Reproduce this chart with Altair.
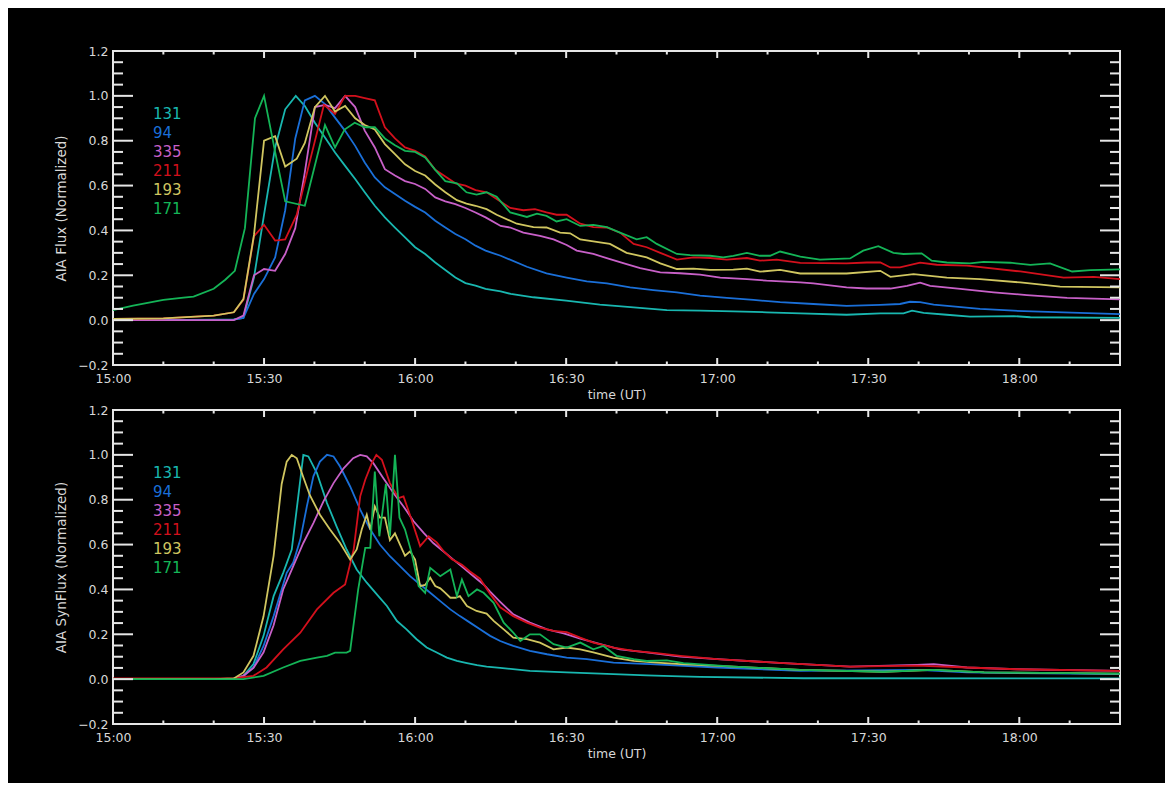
import altair as alt
import pandas as pd

# ---------------- data (minutes after 15:00 UT, normalized flux) ----------------
BANDS = ["131", "94", "335", "211", "193", "171"]
COLORS = ["#19b7b0", "#1a6fd8", "#c860c8", "#d3101c", "#d0c660", "#14b457"]

# top panel: AIA Flux
T_TOP_131 = [0, 10, 20, 24, 25.9, 28, 30, 32.2, 34.2, 36.3, 38.1, 40.1, 42.1, 44.1, 46.1, 48.1, 50, 52, 54, 56, 58, 60, 62, 64, 66, 68, 70, 72, 74, 77, 79, 83.5, 90, 96.7, 103.4, 110, 116.6, 123.2, 129.8, 136.5, 145.7, 152.4, 157, 158.7, 161, 165.6, 170.2, 178.9, 182.2, 200]
V_TOP_131 = [0.0, 0.0, 0.002, 0.003, 0.01, 0.19, 0.47, 0.77, 0.94, 1.0, 0.955, 0.88, 0.814, 0.747, 0.688, 0.629, 0.57, 0.51, 0.458, 0.413, 0.369, 0.325, 0.295, 0.257, 0.224, 0.19, 0.165, 0.154, 0.139, 0.128, 0.117, 0.102, 0.087, 0.069, 0.057, 0.045, 0.042, 0.039, 0.035, 0.03, 0.024, 0.03, 0.03, 0.042, 0.032, 0.024, 0.016, 0.018, 0.013, 0.01]

T_TOP_94 = [0, 20, 24, 25.9, 28, 30, 32.2, 34.2, 36.2, 38.1, 40.1, 42.1, 44.1, 46.1, 48.1, 50, 52, 54, 56, 58, 60, 62, 64, 66, 68, 70, 72, 74, 77, 82.2, 86.1, 90.1, 94.1, 98.1, 102.7, 107.3, 112, 116.6, 121.9, 127.2, 132.5, 139.1, 145.7, 152.4, 156.3, 158.3, 160.3, 163, 172.2, 178.9, 188.8, 200]
V_TOP_94 = [0, 0, 0.002, 0.01, 0.117, 0.183, 0.28, 0.49, 0.81, 0.98, 1.0, 0.963, 0.903, 0.844, 0.777, 0.703, 0.636, 0.592, 0.562, 0.532, 0.505, 0.48, 0.443, 0.413, 0.384, 0.361, 0.332, 0.31, 0.287, 0.238, 0.209, 0.19, 0.173, 0.164, 0.146, 0.134, 0.124, 0.109, 0.099, 0.09, 0.08, 0.072, 0.064, 0.068, 0.072, 0.082, 0.08, 0.069, 0.05, 0.042, 0.035, 0.027]

T_TOP_335 = [0, 20, 24, 25.9, 28, 30, 32.2, 34.2, 36.2, 38.1, 40.1, 42.1, 44.1, 46.1, 48.1, 50, 52, 54, 56, 58, 60, 62, 64, 66, 68, 70, 72, 74, 77, 78.9, 81.5, 84.8, 87.5, 90.1, 92.1, 95.4, 98.7, 102, 104.7, 108.7, 112.6, 116.6, 120.6, 125.9, 129.8, 136.5, 139.1, 145.7, 149.7, 154.4, 157.7, 160.3, 162.3, 168.3, 174.9, 181.5, 189.5, 200]
V_TOP_335 = [0, 0, 0.0, 0.02, 0.20, 0.228, 0.22, 0.295, 0.41, 0.66, 0.95, 0.96, 0.945, 1.0, 0.95, 0.845, 0.77, 0.673, 0.645, 0.62, 0.607, 0.585, 0.547, 0.53, 0.517, 0.50, 0.48, 0.458, 0.42, 0.413, 0.39, 0.376, 0.36, 0.335, 0.31, 0.295, 0.272, 0.25, 0.232, 0.213, 0.209, 0.203, 0.19, 0.183, 0.176, 0.168, 0.164, 0.146, 0.141, 0.141, 0.153, 0.167, 0.153, 0.139, 0.124, 0.112, 0.099, 0.093]

T_TOP_211 = [0, 10, 20, 24, 25.9, 28, 30, 32.2, 34.2, 36.5, 39, 41.9, 44.1, 46.1, 48.1, 50, 52, 54, 56, 58, 60, 62, 64, 66, 68, 70, 72, 74.2, 76.2, 78.9, 81.5, 83.8, 86.1, 88.1, 90.1, 92.8, 95.4, 98.1, 100.7, 103.4, 106, 108.7, 112, 115.3, 118.6, 121.9, 125.9, 128.5, 131.8, 136.5, 145.7, 149.7, 152.4, 154.4, 156.3, 160.3, 163.6, 169.6, 180.2, 188.8, 194.8, 200]
V_TOP_211 = [0.005, 0.008, 0.02, 0.035, 0.09, 0.375, 0.425, 0.355, 0.36, 0.47, 0.70, 0.96, 0.92, 1.0, 1.0, 0.99, 0.98, 0.86, 0.81, 0.77, 0.755, 0.73, 0.67, 0.64, 0.61, 0.60, 0.58, 0.57, 0.54, 0.50, 0.49, 0.495, 0.48, 0.47, 0.47, 0.43, 0.415, 0.413, 0.39, 0.34, 0.325, 0.30, 0.27, 0.28, 0.277, 0.27, 0.277, 0.265, 0.27, 0.255, 0.253, 0.257, 0.257, 0.235, 0.235, 0.256, 0.247, 0.243, 0.217, 0.19, 0.193, 0.183]

T_TOP_193 = [0, 10, 20, 24, 25.9, 28, 30, 32.2, 34.2, 36.5, 38.1, 40.1, 42.1, 44.1, 46.1, 48.1, 50, 52, 54, 56, 58, 60, 62, 64, 66, 68.3, 70.2, 72, 74.2, 76.2, 80.2, 83.5, 86.1, 88.8, 90.8, 92.8, 96.7, 98.7, 102, 106, 108.7, 112, 115.3, 118.6, 123.2, 125.9, 128.5, 132.5, 136.5, 145.7, 152.4, 154.4, 159, 165.6, 172.2, 180.2, 188.1, 200]
V_TOP_193 = [0.005, 0.008, 0.02, 0.035, 0.094, 0.38, 0.80, 0.82, 0.685, 0.72, 0.79, 0.95, 1.0, 0.93, 0.955, 0.90, 0.87, 0.85, 0.785, 0.74, 0.695, 0.665, 0.645, 0.605, 0.57, 0.535, 0.52, 0.51, 0.495, 0.47, 0.43, 0.415, 0.413, 0.39, 0.387, 0.36, 0.347, 0.34, 0.30, 0.28, 0.253, 0.228, 0.23, 0.224, 0.225, 0.23, 0.216, 0.224, 0.208, 0.208, 0.22, 0.193, 0.205, 0.19, 0.183, 0.168, 0.149, 0.146]

T_TOP_171 = [0, 4, 10, 14, 16, 20, 22.3, 24.2, 26.2, 28.2, 30, 32.2, 34.2, 38.1, 42.1, 44.1, 46, 48, 50, 52, 54, 56, 58, 60, 62, 64, 66, 68.3, 70.2, 72.2, 74.2, 76.2, 78.9, 82.2, 84.2, 86.1, 88.1, 90.1, 92.8, 95.4, 98.1, 100.7, 104, 106, 108, 112, 114.6, 118.6, 121.2, 123.2, 125.9, 128.5, 130.5, 132.5, 136.5, 140.4, 146.4, 149, 152, 155, 157, 160.6, 162.6, 165.6, 170.2, 172.9, 178.2, 182.2, 186.1, 190.5, 194.1, 200]
V_TOP_171 = [0.045, 0.065, 0.09, 0.10, 0.105, 0.14, 0.18, 0.22, 0.41, 0.90, 1.0, 0.75, 0.53, 0.51, 0.87, 0.77, 0.85, 0.88, 0.86, 0.86, 0.81, 0.78, 0.755, 0.75, 0.725, 0.67, 0.62, 0.61, 0.57, 0.56, 0.57, 0.55, 0.48, 0.46, 0.475, 0.465, 0.44, 0.45, 0.42, 0.425, 0.415, 0.39, 0.36, 0.37, 0.34, 0.295, 0.29, 0.287, 0.28, 0.287, 0.30, 0.287, 0.287, 0.306, 0.283, 0.27, 0.275, 0.31, 0.33, 0.30, 0.295, 0.298, 0.265, 0.257, 0.253, 0.26, 0.256, 0.246, 0.253, 0.217, 0.223, 0.226]

# bottom panel: AIA SynFlux
T_BOT_131 = [0, 20, 24, 25.9, 27.9, 29.9, 31.9, 33.8, 35.5, 36.8, 37.8, 38.8, 40.5, 42.5, 44.4, 46.4, 48.4, 50.4, 52.4, 54.4, 56.4, 58.3, 60.3, 62.3, 64.3, 66.3, 68.3, 70.3, 72.3, 74.2, 76.9, 82.8, 90.1, 99.4, 106, 112.7, 116.6, 137.2, 200]
V_BOT_131 = [0, 0, 0.002, 0.015, 0.067, 0.193, 0.37, 0.474, 0.578, 0.815, 1.0, 0.993, 0.919, 0.785, 0.681, 0.578, 0.489, 0.43, 0.378, 0.326, 0.259, 0.222, 0.178, 0.141, 0.119, 0.096, 0.081, 0.071, 0.062, 0.056, 0.05, 0.037, 0.03, 0.022, 0.017, 0.012, 0.01, 0.004, 0.003]

T_BOT_94 = [0, 20, 24, 25.9, 27.9, 29.9, 31.9, 34.5, 35.8, 37.2, 38.5, 39.8, 41.1, 42.5, 43.8, 45.1, 47.1, 49.1, 51.1, 53, 55, 57, 59, 61, 63, 65, 67, 68.9, 70.9, 72.9, 74.9, 76.9, 79.5, 82.8, 86.2, 90.1, 94.1, 99.4, 106.7, 120, 136.5, 159.7, 169.6, 200]
V_BOT_94 = [0, 0, 0.002, 0.012, 0.052, 0.148, 0.281, 0.474, 0.52, 0.622, 0.77, 0.904, 0.97, 1.0, 0.993, 0.948, 0.859, 0.756, 0.667, 0.60, 0.548, 0.504, 0.459, 0.422, 0.385, 0.348, 0.311, 0.281, 0.252, 0.222, 0.193, 0.17, 0.148, 0.126, 0.111, 0.096, 0.089, 0.074, 0.067, 0.052, 0.037, 0.041, 0.03, 0.022]

T_BOT_335 = [0, 20, 24, 25.9, 27.9, 29.9, 31.9, 33.8, 35.8, 37.8, 39.8, 41.8, 43.8, 45.8, 47.7, 49.1, 50.4, 51.7, 53.7, 55.7, 57.7, 59.7, 61.7, 63.6, 65.6, 67.6, 69.6, 71.6, 73.6, 74.9, 76.9, 79.5, 82.8, 86.2, 89.5, 92.8, 96.8, 100.7, 106, 112.7, 120, 133.2, 146.4, 159.7, 163, 169.6, 179.5, 200]
V_BOT_335 = [0, 0, 0.002, 0.015, 0.05, 0.12, 0.24, 0.40, 0.504, 0.607, 0.696, 0.793, 0.874, 0.94, 0.985, 1.0, 0.993, 0.963, 0.896, 0.83, 0.77, 0.704, 0.652, 0.607, 0.57, 0.533, 0.496, 0.459, 0.422, 0.39, 0.345, 0.289, 0.252, 0.222, 0.204, 0.181, 0.156, 0.133, 0.119, 0.1, 0.089, 0.071, 0.056, 0.064, 0.067, 0.052, 0.044, 0.037]

T_BOT_211 = [0, 20, 24, 27.9, 30.5, 33.8, 37.2, 40.5, 43.8, 46.1, 47.8, 49.1, 50.1, 51.4, 52.3, 53.4, 55, 56.7, 57.7, 59.3, 61, 62.7, 64.3, 65.6, 67.3, 69.3, 70.9, 72.9, 74.9, 76.9, 79.5, 82.2, 84.8, 87.5, 90.1, 92.8, 95.4, 99.4, 103.4, 108, 112.7, 120, 133.2, 146.4, 159.7, 169.6, 179.5, 200]
V_BOT_211 = [0.003, 0.003, 0.004, 0.015, 0.052, 0.133, 0.207, 0.311, 0.385, 0.422, 0.578, 0.815, 0.889, 0.963, 1.0, 0.978, 0.874, 0.807, 0.815, 0.711, 0.593, 0.637, 0.61, 0.572, 0.535, 0.51, 0.48, 0.448, 0.38, 0.32, 0.281, 0.252, 0.23, 0.215, 0.21, 0.185, 0.163, 0.141, 0.126, 0.116, 0.104, 0.089, 0.071, 0.056, 0.06, 0.052, 0.044, 0.037]

T_BOT_193 = [0, 20, 24, 25.9, 27.9, 29.9, 31.9, 33.5, 34.5, 35.5, 36.5, 37.8, 39.1, 41.1, 43.1, 45.1, 47.1, 48.4, 49.4, 50.4, 51.1, 52, 53, 54, 55, 56, 57, 58, 59, 60, 61, 62, 63, 64, 65, 66, 67, 68, 68.9, 70.3, 72.2, 74.2, 75.6, 77.6, 79.5, 82.2, 84.8, 87.5, 90.1, 92.8, 95.4, 99.4, 103.4, 108, 112.7, 123.3, 136.5, 153, 163, 173, 200]
V_BOT_193 = [0, 0, 0.003, 0.03, 0.104, 0.28, 0.55, 0.87, 0.97, 1.0, 0.985, 0.90, 0.82, 0.733, 0.667, 0.607, 0.533, 0.578, 0.667, 0.733, 0.667, 0.77, 0.72, 0.72, 0.62, 0.65, 0.60, 0.55, 0.57, 0.533, 0.415, 0.42, 0.452, 0.415, 0.405, 0.385, 0.363, 0.363, 0.37, 0.326, 0.304, 0.292, 0.26, 0.222, 0.185, 0.178, 0.163, 0.133, 0.141, 0.133, 0.119, 0.096, 0.081, 0.074, 0.067, 0.056, 0.041, 0.033, 0.041, 0.03, 0.025]

T_BOT_171 = [0, 20, 25.9, 29.9, 33.8, 37.2, 40.5, 42.5, 44.1, 46.4, 47.1, 48.7, 50.1, 51.1, 52, 52.9, 54.2, 55, 56, 56.9, 58, 59.3, 60.7, 62, 63, 65, 67, 68.3, 69.3, 70.6, 72.3, 73.6, 75.6, 77.6, 79.5, 80.9, 82.8, 84.8, 87.5, 90.1, 92.8, 95.4, 97.4, 100, 103.4, 106, 110, 113.3, 123.3, 136.5, 153, 163, 173, 200]
V_BOT_171 = [0, 0, 0.0, 0.015, 0.052, 0.081, 0.096, 0.104, 0.118, 0.118, 0.126, 0.40, 0.585, 0.585, 0.926, 0.637, 0.871, 0.637, 1.0, 0.72, 0.667, 0.563, 0.415, 0.385, 0.496, 0.459, 0.489, 0.37, 0.444, 0.37, 0.40, 0.385, 0.34, 0.252, 0.207, 0.17, 0.20, 0.20, 0.156, 0.141, 0.163, 0.133, 0.148, 0.104, 0.089, 0.081, 0.084, 0.071, 0.056, 0.041, 0.033, 0.041, 0.03, 0.025]

# axis ticks / labels
X_LABEL_MIN = [0, 30, 60, 90, 120, 150, 180]          # 15:00 ... 18:00
X_MINOR_MIN = [m for m in range(10, 200, 10) if m % 30]
Y_LABELS = [-0.2, 0.0, 0.2, 0.4, 0.6, 0.8, 1.0, 1.2]
Y_MINOR = [round(-0.2 + 0.05 * i, 2) for i in range(29) if i % 4]

# ---------------- build ----------------
BASE = pd.Timestamp("2000-01-01 15:00:00")
FG = "#e6e6e6"
TXT = "#d8d8d8"
FONT = "DejaVu Sans"
W, H = 1007, 314


def to_time(mins):
    return [BASE + pd.Timedelta(minutes=m) for m in mins]


def long_frame(pairs):
    parts = []
    for band, (ts, vs) in zip(BANDS, pairs):
        assert len(ts) == len(vs), band
        parts.append(pd.DataFrame({"band": band, "t": to_time(ts), "v": vs}))
    return pd.concat(parts, ignore_index=True)


top_df = long_frame([(T_TOP_131, V_TOP_131), (T_TOP_94, V_TOP_94), (T_TOP_335, V_TOP_335),
                     (T_TOP_211, V_TOP_211), (T_TOP_193, V_TOP_193), (T_TOP_171, V_TOP_171)])
bot_df = long_frame([(T_BOT_131, V_BOT_131), (T_BOT_94, V_BOT_94), (T_BOT_335, V_BOT_335),
                     (T_BOT_211, V_BOT_211), (T_BOT_193, V_BOT_193), (T_BOT_171, V_BOT_171)])


def dt(m):
    return alt.DateTime(year=2000, month=1, date=1, hours=15 + m // 60, minutes=m % 60)


xs = alt.Scale(domain=[dt(0), dt(200)], nice=False)
ys = alt.Scale(domain=[-0.2, 1.2], nice=False, zero=False)
cs = alt.Scale(domain=BANDS, range=COLORS)

x_axis = alt.Axis(values=[dt(m) for m in X_LABEL_MIN], format="%H:%M", title="time (UT)",
                  labelPadding=7, titlePadding=4, labelFlush=False, labelOverlap=False)


def y_axis(title):
    return alt.Axis(values=Y_LABELS, format=".1f", title=title, labelPadding=5,
                    titlePadding=9, titleFontSize=13.5, labelFlush=False)


def panel(df, ytitle):
    X = alt.X("t:T", scale=xs, axis=x_axis)
    Y = alt.Y("v:Q", scale=ys, axis=y_axis(ytitle))

    lines = alt.Chart(df).mark_line(strokeWidth=1.8).encode(
        x=X, y=Y, color=alt.Color("band:N", scale=cs, legend=None)
    )

    ymaj = alt.Chart(pd.DataFrame({"v": Y_LABELS})).mark_rule(color=FG, strokeWidth=2)
    ymin = alt.Chart(pd.DataFrame({"v": Y_MINOR})).mark_rule(color=FG, strokeWidth=2)
    xmaj = alt.Chart(pd.DataFrame({"t": to_time(X_LABEL_MIN)})).mark_rule(color=FG, strokeWidth=2)
    xmin = alt.Chart(pd.DataFrame({"t": to_time(X_MINOR_MIN)})).mark_rule(color=FG, strokeWidth=2)

    ticks = [
        ymaj.encode(y=Y, x=alt.value(0), x2=alt.value(20)),
        ymaj.encode(y=Y, x=alt.value(W), x2=alt.value(W - 20)),
        ymin.encode(y=Y, x=alt.value(0), x2=alt.value(10)),
        ymin.encode(y=Y, x=alt.value(W), x2=alt.value(W - 10)),
        xmaj.encode(x=X, y=alt.value(H), y2=alt.value(H - 7)),
        xmaj.encode(x=X, y=alt.value(0), y2=alt.value(7)),
        xmin.encode(x=X, y=alt.value(H), y2=alt.value(H - 3.5)),
        xmin.encode(x=X, y=alt.value(0), y2=alt.value(3.5)),
    ]

    legend = alt.Chart(pd.DataFrame({"band": BANDS})).mark_text(
        align="left", baseline="middle", font=FONT, fontSize=15
    ).encode(
        x=alt.value(40),
        y=alt.value(63),
        yOffset=alt.YOffset("band:N", sort=BANDS,
                            scale=alt.Scale(type="point", range=[0, 95], padding=0)),
        text="band:N",
        color=alt.Color("band:N", scale=cs, legend=None),
    )

    return alt.layer(lines, *ticks, legend).properties(width=W, height=H)


top = panel(top_df, "AIA Flux (Normalized)")
bottom = panel(bot_df, "AIA SynFlux (Normalized)")

chart = (
    alt.vconcat(top, bottom, spacing=1)
    .properties(background="black", padding={"left": 45, "top": 36, "right": 40, "bottom": 22})
    .configure_view(stroke=FG, strokeWidth=2)
    .configure_axis(labelFont=FONT, labelFontSize=12.5, labelColor=TXT, titleFont=FONT,
                    titleFontSize=12.5, titleFontWeight="normal", titleColor=TXT,
                    domain=False, ticks=False, grid=False)
)

chart.save("out.html", embed_options={"renderer": "svg", "actions": False})
